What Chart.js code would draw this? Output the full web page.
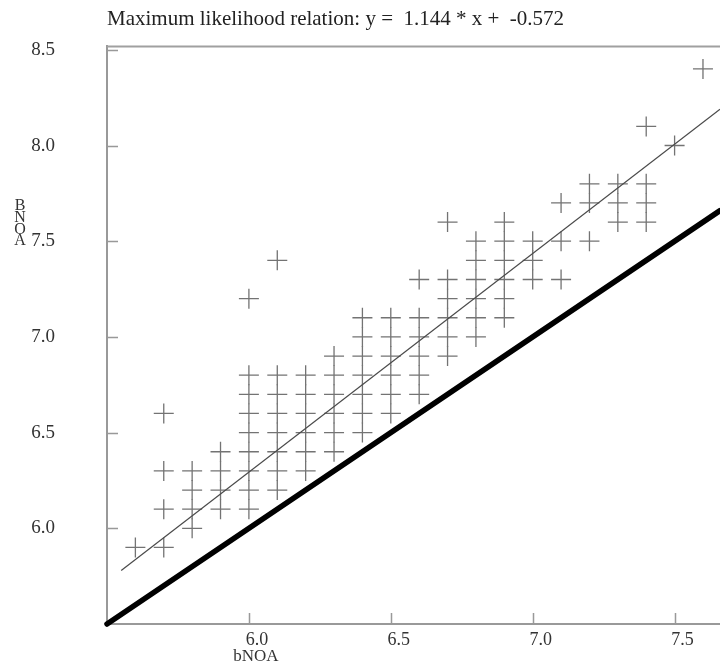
<!DOCTYPE html>
<html><head><meta charset="utf-8">
<script src="https://cdn.jsdelivr.net/npm/chart.js@4/dist/chart.umd.min.js"></script>
<style>html,body{margin:0;padding:0;background:#fff;overflow:hidden}</style>
</head><body>
<canvas id="c" width="720" height="665" style="width:720px;height:665px;display:block"></canvas>
<script>
// ---- data ----
const titleText = 'Maximum likelihood relation: y =  1.144 * x +  -0.572';
const xAxisTitle = 'bNOA';
const yAxisTitleLetters = ['B', 'N', 'O', 'A'];
const xTickValues = [6.0, 6.5, 7.0, 7.5];
const yTickValues = [6.0, 6.5, 7.0, 7.5, 8.0, 8.5];
const xRange = [5.5, 7.66];
const yRange = [5.5, 8.52];

// observation columns (x) and the y values seen in each column
const columnX = [5.6, 5.7, 5.8, 5.9, 6.0, 6.1, 6.2, 6.3, 6.4, 6.5, 6.6, 6.7, 6.8, 6.9, 7.0, 7.1, 7.2, 7.3, 7.4, 7.5, 7.6];
const columnY = [
  [5.9],
  [5.9, 6.1, 6.3, 6.6],
  [6.0, 6.1, 6.2, 6.3],
  [6.1, 6.2, 6.3, 6.4],
  [6.1, 6.2, 6.3, 6.4, 6.5, 6.6, 6.7, 6.8, 7.2],
  [6.2, 6.3, 6.4, 6.5, 6.6, 6.7, 6.8, 7.4],
  [6.3, 6.4, 6.5, 6.6, 6.7, 6.8],
  [6.4, 6.5, 6.6, 6.7, 6.8, 6.9],
  [6.5, 6.6, 6.7, 6.8, 6.9, 7.0, 7.1],
  [6.6, 6.7, 6.8, 6.9, 7.0, 7.1],
  [6.7, 6.8, 6.9, 7.0, 7.1, 7.3],
  [6.9, 7.0, 7.1, 7.2, 7.3, 7.6],
  [7.0, 7.1, 7.2, 7.3, 7.4, 7.5],
  [7.1, 7.2, 7.3, 7.4, 7.5, 7.6],
  [7.3, 7.4, 7.5],
  [7.3, 7.5, 7.7],
  [7.5, 7.7, 7.8],
  [7.6, 7.7, 7.8],
  [7.6, 7.7, 7.8, 8.1],
  [8.0],
  [8.4]
];
// fitted relation line end points and the 1:1 line end points
const fitLineX = [5.55, 7.66];
const fitLineY = [5.78, 8.19];
const equalLineX = [5.5, 7.66];
const equalLineY = [5.5, 7.66];

// ---- build library structures ----
const scatterPoints = [];
columnX.forEach((x, i) => columnY[i].forEach(y => scatterPoints.push({x: x, y: y})));
const fitPoints = fitLineX.map((x, i) => ({x: x, y: fitLineY[i]}));
const equalPoints = equalLineX.map((x, i) => ({x: x, y: equalLineY[i]}));

const SERIF = '"Liberation Serif", "Times New Roman", serif';

const decorPlugin = {
  id: 'decor',
  afterDraw(chart) {
    const ctx = chart.ctx, a = chart.chartArea;
    const xs = chart.scales.x, ys = chart.scales.y;
    ctx.save();
    // top frame line
    ctx.strokeStyle = '#a0a0a0';
    ctx.lineWidth = 2;
    ctx.beginPath();
    ctx.moveTo(a.left, a.top + 0.5);
    ctx.lineTo(a.right, a.top + 0.5);
    ctx.stroke();
    // inward tick marks
    ctx.strokeStyle = '#999';
    ctx.lineWidth = 1.5;
    ctx.beginPath();
    xs.ticks.forEach(t => {
      const px = Math.round(xs.getPixelForValue(t.value)) + 0.5;
      ctx.moveTo(px, a.bottom);
      ctx.lineTo(px, a.bottom - 11);
    });
    ys.ticks.forEach(t => {
      const py = Math.round(ys.getPixelForValue(t.value)) + 0.5;
      ctx.moveTo(a.left, py);
      ctx.lineTo(a.left + 11, py);
    });
    ctx.stroke();
    // title
    ctx.fillStyle = '#222';
    ctx.font = '21px ' + SERIF;
    ctx.textAlign = 'left';
    ctx.textBaseline = 'middle';
    ctx.fillText(titleText, a.left, 19);
    // x axis title
    ctx.font = '17px ' + SERIF;
    ctx.fillStyle = '#333';
    ctx.textAlign = 'center';
    ctx.fillText(xAxisTitle, xs.getPixelForValue(xTickValues[0]) + 7, 657);
    // y axis title: stacked letters ending at the 7.5 tick
    ctx.font = '16px ' + SERIF;
    const baseY = ys.getPixelForValue(7.5);
    const n = yAxisTitleLetters.length;
    yAxisTitleLetters.forEach((ch, i) => {
      ctx.fillText(ch, 20, baseY - (n - 1 - i) * 11.7);
    });
    ctx.restore();
  }
};

new Chart(document.getElementById('c'), {
  type: 'scatter',
  data: {
    datasets: [
      {
        type: 'line', data: equalPoints, borderColor: '#000', borderWidth: 5.5,
        borderCapStyle: 'round', pointRadius: 0, fill: false, clip: false, tension: 0
      },
      {
        type: 'line', data: fitPoints, borderColor: '#4a4a4a', borderWidth: 1.2,
        pointRadius: 0, fill: false, tension: 0
      },
      {
        data: scatterPoints, pointStyle: 'cross', pointRadius: 10, pointHoverRadius: 10,
        borderColor: '#737373', borderWidth: 1.3, backgroundColor: '#737373', clip: false
      }
    ]
  },
  options: {
    responsive: false,
    animation: false,
    events: [],
    layout: {autoPadding: false, padding: {top: 46, right: 0, bottom: 0, left: 0}},
    plugins: {legend: {display: false}, tooltip: {enabled: false}, title: {display: false}},
    scales: {
      x: {
        type: 'linear', position: 'bottom', min: xRange[0], max: xRange[1],
        afterBuildTicks: s => { s.ticks = xTickValues.map(v => ({value: v})); },
        afterFit: s => { s.height = 41; s.paddingLeft = 0; s.paddingRight = 0; },
        grid: {display: false, drawTicks: false},
        border: {display: true, color: '#999', width: 2},
        ticks: {
          font: {family: SERIF, size: 18}, color: '#333', padding: 5, labelOffset: 8,
          maxRotation: 0, autoSkip: false, callback: v => Number(v).toFixed(1)
        }
      },
      y: {
        type: 'linear', position: 'left', min: yRange[0], max: yRange[1],
        afterBuildTicks: s => { s.ticks = yTickValues.map(v => ({value: v})); },
        afterFit: s => { s.width = 107; s.paddingTop = 0; s.paddingBottom = 0; },
        grid: {display: false, drawTicks: false},
        border: {display: true, color: '#999', width: 2},
        ticks: {
          font: {family: SERIF, size: 19}, color: '#333', padding: 52,
          autoSkip: false, callback: v => Number(v).toFixed(1)
        }
      }
    }
  },
  plugins: [decorPlugin]
});
</script>
</body></html>
